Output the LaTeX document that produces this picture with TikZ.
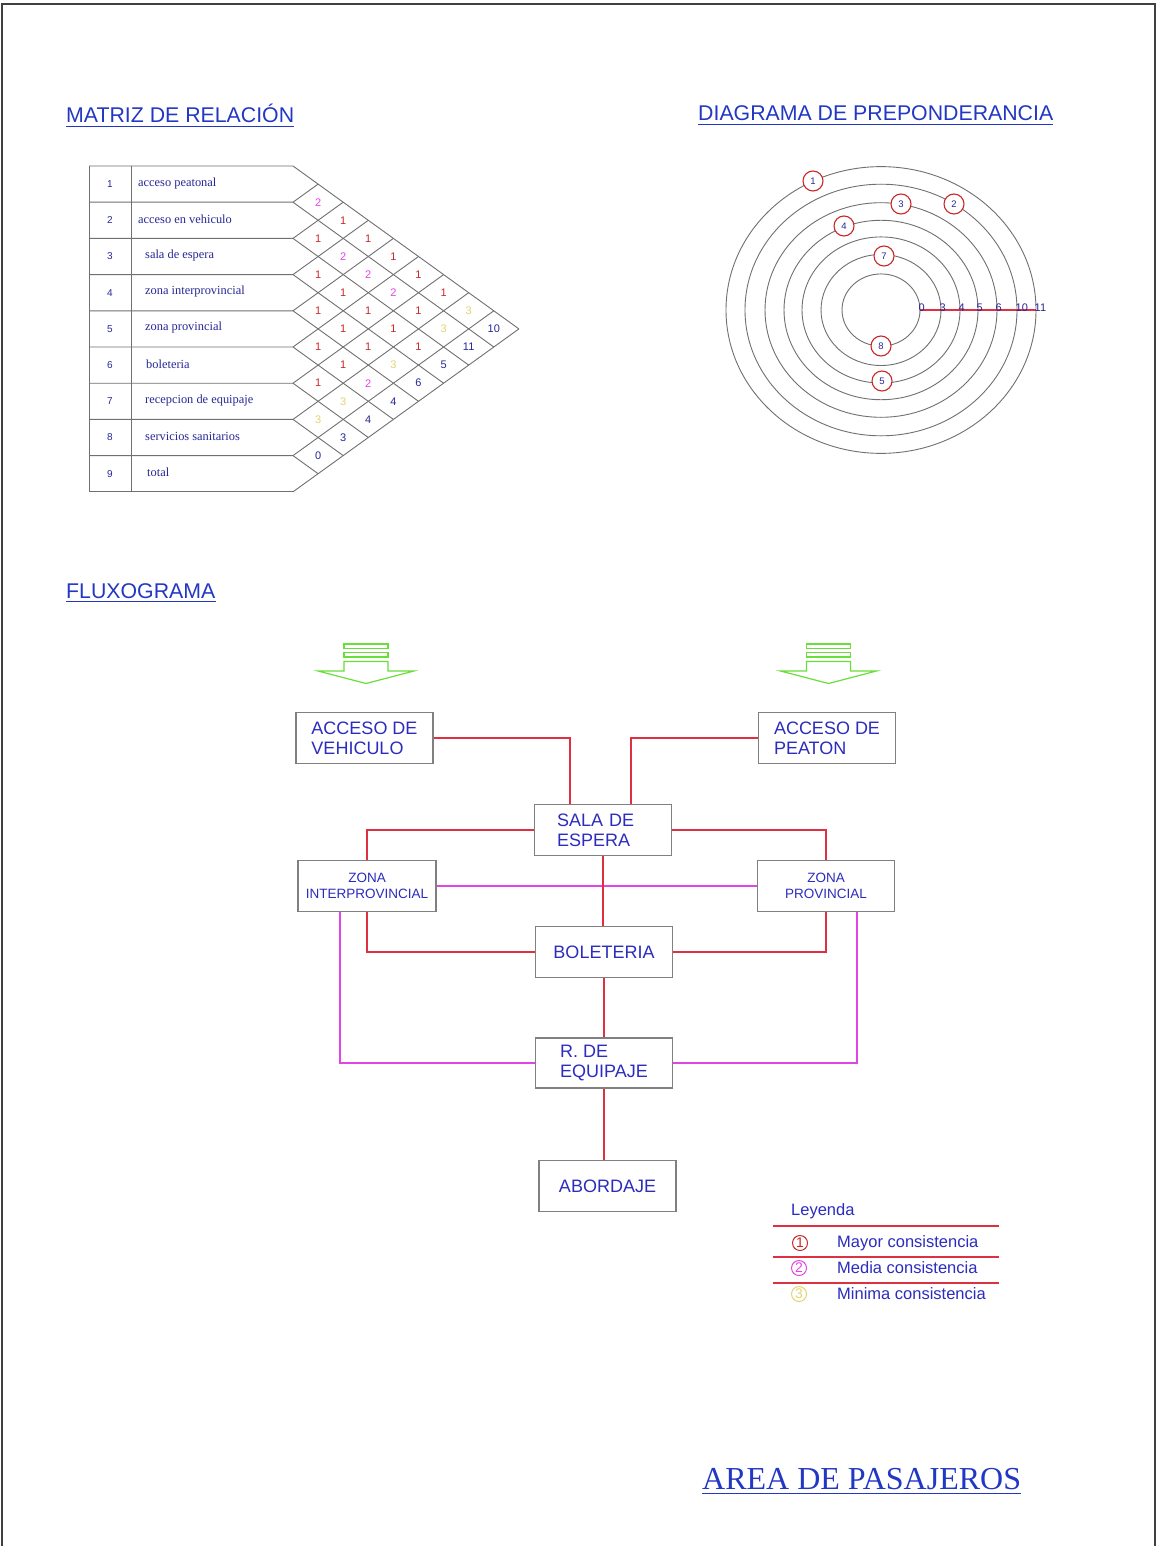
\documentclass[tikz,border=0pt]{standalone}
\usepackage{fontspec}
\setmainfont{Liberation Serif}
\setsansfont{Liberation Sans}
\usetikzlibrary{calc}

\definecolor{inkblue}{RGB}{44,44,190}
\definecolor{navy}{RGB}{40,40,150}
\definecolor{titleblue}{RGB}{34,56,196}
\definecolor{linkred}{RGB}{222,48,64}
\definecolor{numred}{RGB}{200,40,40}
\definecolor{linkmag}{RGB}{226,70,226}
\definecolor{rankyel}{RGB}{228,212,112}
\definecolor{arrowgreen}{RGB}{104,224,56}
\definecolor{gridgray}{RGB}{112,112,112}
\definecolor{boxgray}{RGB}{128,128,128}

\begin{document}
\begin{tikzpicture}[x=1pt,y=-1pt,
  title/.style={font=\sffamily\fontsize{21.3}{24}\selectfont, text=titleblue, inner sep=0pt, anchor=base west},
  grid/.style={draw=gridgray, line width=0.9pt},
  rownum/.style={font=\sffamily\fontsize{10}{12}\selectfont, text=navy, inner sep=0pt},
  rowlabel/.style={font=\fontsize{12.4}{14}\selectfont, text=navy, inner sep=0pt, anchor=west},
  cellval/.style={font=\sffamily\fontsize{11}{13}\selectfont, inner sep=0pt},
  badge/.style={circle, draw=numred, line width=1.1pt, fill=white, minimum size=20pt, inner sep=0pt,
    font=\sffamily\fontsize{9.5}{11}\selectfont, text=navy},
  axislbl/.style={font=\sffamily\fontsize{11}{13}\selectfont, text=navy, inner sep=0pt, anchor=base west},
  box/.style={draw=boxgray, line width=1.2pt, minimum height=51pt, minimum width=137pt, inner sep=0pt,
    text=inkblue, font=\sffamily\fontsize{18}{20}\selectfont},
  smallbox/.style={box, font=\sffamily\fontsize{13.5}{16}\selectfont, align=center},
  redlink/.style={draw=linkred, line width=1.5pt},
  maglink/.style={draw=linkmag, line width=1.5pt},
  arrowshape/.style={draw=arrowgreen, line width=1.2pt},
  legtext/.style={font=\sffamily\fontsize{16.5}{19}\selectfont, text=inkblue, inner sep=0pt, anchor=west},
  legmark/.style={circle, line width=1pt, minimum width=13pt, minimum height=15pt, inner sep=0pt,
    font=\sffamily\fontsize{14}{16}\selectfont},
]
\useasboundingbox (0,0) rectangle (1157,1546);
\fill[white] (0,0) rectangle (1157,1546);

% sheet frame
\draw[black!75, line width=1.3pt] (2,4) rectangle (1155,1580);

% ---------- headings ----------
\node[title] (tmat) at (66,123) {MATRIZ DE RELACIÓN};
\draw[titleblue, line width=1pt] ([yshift=-3.5pt]tmat.base west) -- ([yshift=-3.5pt]tmat.base east);
\node[title] (tdia) at (698,121) {DIAGRAMA DE PREPONDERANCIA};
\draw[titleblue, line width=1pt] ([yshift=-3.5pt]tdia.base west) -- ([yshift=-3.5pt]tdia.base east);
\node[title] (tflu) at (66,598) {FLUXOGRAMA};
\draw[titleblue, line width=1pt] ([yshift=-3.5pt]tflu.base west) -- ([yshift=-3.5pt]tflu.base east);
\node[font=\fontsize{32}{36}\selectfont, text=titleblue, inner sep=0pt, anchor=base west] (tarea) at (702,1489) {AREA DE PASAJEROS};
\draw[titleblue, line width=1pt] ([yshift=-4.5pt]tarea.base west) -- ([yshift=-4.5pt]tarea.base east);

% ---------- relation matrix ----------
\def\mx{293}\def\my{166}\def\mh{36.2}\def\mw{25.1}
\foreach \k in {0,...,9} {
  \draw[grid] (89,{\my+\k*\mh}) -- (\mx,{\my+\k*\mh}) -- ++({(9-\k)*\mw},{(9-\k)*\mh/2});
  \draw[grid] (\mx,{\my+\k*\mh}) -- ++({\k*\mw},{-\k*\mh/2});
}
\draw[grid] (89,\my) -- (89,{\my+9*\mh});
\draw[grid] (131,\my) -- (131,{\my+9*\mh});

\foreach \r/\t/\lx in {1/acceso peatonal/138, 2/acceso en vehiculo/138, 3/sala de espera/145,
    4/zona interprovincial/145, 5/zona provincial/145, 6/boleteria/146,
    7/recepcion de equipaje/145, 8/servicios sanitarios/145, 9/total/147} {
  \node[rownum] (n\r) at (110,{\my+(\r-0.5)*\mh}) {\r};
  \node[rowlabel] (l\r) at (\lx,{\my+(\r-0.5)*\mh-1}) {\t};
}

\foreach \i/\j/\v/\c in {1/2/2/linkmag, 1/3/1/numred, 2/3/1/numred, 1/4/1/numred, 2/4/2/linkmag,
    1/5/1/numred, 3/4/1/numred, 2/5/2/linkmag, 1/6/1/numred, 3/5/1/numred, 2/6/2/linkmag,
    1/7/1/numred, 4/5/1/numred, 3/6/1/numred, 2/7/1/numred, 1/8/3/rankyel, 4/6/1/numred,
    3/7/1/numred, 2/8/3/rankyel, 1/9/10/navy, 5/6/1/numred, 4/7/1/numred, 3/8/1/numred,
    2/9/11/navy, 5/7/1/numred, 4/8/3/rankyel, 3/9/5/navy, 6/7/1/numred, 5/8/2/linkmag,
    4/9/6/navy, 6/8/3/rankyel, 5/9/4/navy, 7/8/3/rankyel, 6/9/4/navy, 7/9/3/navy, 8/9/0/navy} {
  \node[cellval, text=\c] (c\i\j) at ({\mx+(\j-\i)*\mw},{\my+((\i+\j)/2-0.5)*\mh}) {\v};
}

% ---------- dominance diagram ----------
\foreach \r in {39,60,79,97,116,136,155}
  \draw[grid] (881,310) ellipse [x radius=\r, y radius={0.925*\r}];
\draw[draw=linkred, line width=1.4pt] (920,310) -- (1036,310);
\foreach \v/\r in {0/39, 3/60, 4/79, 5/97, 6/116, 10/136, 11/155}
  \node[axislbl] (a\v) at ({881+\r-1.5},311) {\v};
\foreach \n/\px/\py in {1/813/181, 2/954/204, 3/901/204, 4/844/226, 7/884/256, 8/881/346, 5/882/381}
  \node[badge] (b\n) at (\px,\py) {\n};

% ---------- entry arrows ----------
\foreach \c/\nm in {366/arrL, 828.5/arrR} {
  \draw[arrowshape] ({\c-22},644) rectangle ({\c+22},648.5);
  \draw[arrowshape] ({\c-22},652.5) rectangle ({\c+22},657);
  \draw[arrowshape] ({\c-22},661.5) -- ({\c-22},671) -- ({\c-48},671) -- (\c,683.5)
     -- ({\c+48},671) -- ({\c+22},671) -- ({\c+22},661.5) -- cycle;
  \coordinate (\nm) at (\c,683.5);
}

% ---------- flow chart ----------
\node[box, align=left] (veh) at (364.5,738) {ACCESO DE\\VEHICULO};
\node[box, align=left] (peat) at (827,738) {ACCESO DE\\PEATON};
\node[box, align=left, text width=92pt] (sala) at (603,830) {SALA DE\\ESPERA};
\node[smallbox, minimum width=138pt] (zi) at (367,886) {ZONA\\INTERPROVINCIAL};
\node[smallbox] (zp) at (826,886) {ZONA\\PROVINCIAL};
\node[box] (bol) at (604,952) {BOLETERIA};
\node[box, align=left, minimum height=50pt] (equip) at (604,1063) {R. DE\\EQUIPAJE};
\node[box] (abord) at (607.5,1186) {ABORDAJE};

% medium links first, strong links drawn over them
\draw[maglink] (zi.east) -- (zp.west);
\draw[maglink] ([xshift=-27pt]zi.south) |- (equip.west);
\draw[maglink] ([xshift=31pt]zp.south) |- (equip.east);
\draw[redlink] (veh.east) -| ([xshift=-33pt]sala.north);
\draw[redlink] (peat.west) -| ([xshift=28pt]sala.north);
\draw[redlink] (sala.west) -| (zi.north);
\draw[redlink] (sala.east) -| (zp.north);
\draw[redlink] (sala.south) -- (sala.south |- bol.north);
\draw[redlink] (zi.south) |- (bol.west);
\draw[redlink] (zp.south) |- (bol.east);
\draw[redlink] (bol.south) -- (equip.north);
\draw[redlink] (equip.south) -- (equip.south |- abord.north);

% ---------- legend ----------
\node[legtext] (leg) at (791,1211) {Leyenda};
\coordinate (lg1a) at (773,1226); \coordinate (lg1b) at (999,1226);
\coordinate (lg2a) at (773,1257); \coordinate (lg2b) at (999,1257);
\coordinate (lg3a) at (773,1283); \coordinate (lg3b) at (999,1283);
\draw[redlink] (lg1a) -- (lg1b);
\draw[redlink] (lg2a) -- (lg2b);
\draw[redlink] (lg3a) -- (lg3b);
\node[legmark, draw=numred, text=numred] (m1) at (800,1243) {1};
\node[legtext] (t1) at (837,1243) {Mayor consistencia};
\node[legmark, draw=linkmag, text=linkmag] (m2) at (799,1268) {2};
\node[legtext] (t2) at (837,1268) {Media consistencia};
\node[legmark, draw=rankyel, text=rankyel] (m3) at (799,1294) {3};
\node[legtext] (t3) at (837,1294) {Minima consistencia};
\end{tikzpicture}
\end{document}
